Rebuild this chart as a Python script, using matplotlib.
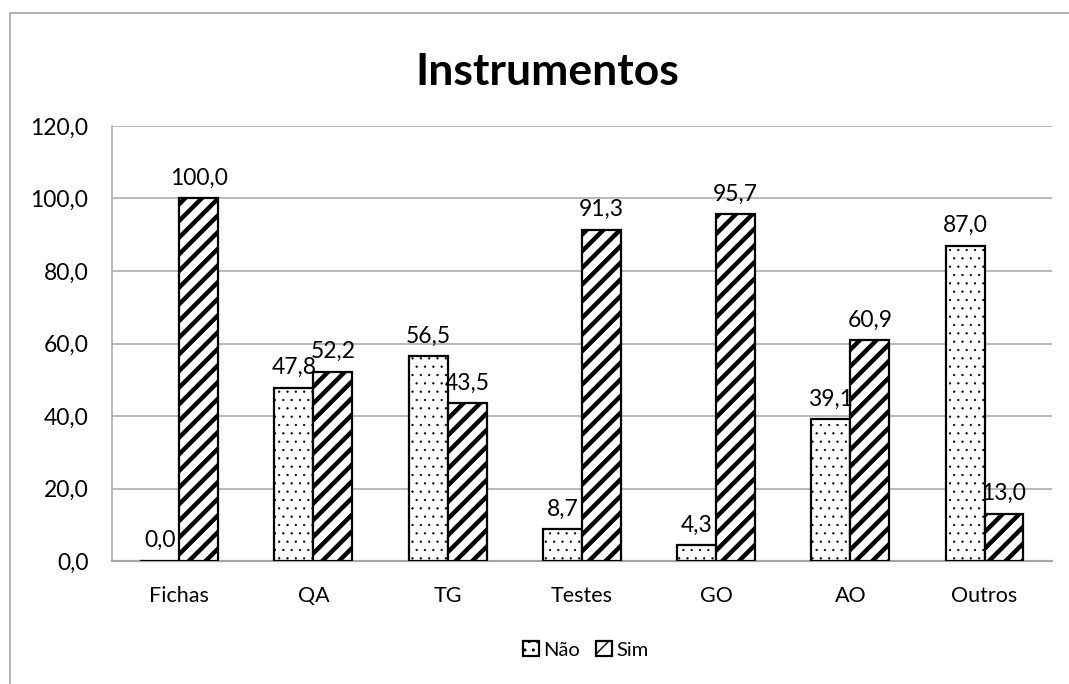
import numpy as np
import matplotlib
matplotlib.use('Agg')
import matplotlib.pyplot as plt
from matplotlib.patches import Rectangle

# percentages per instrument
categorias = ['Fichas', 'QA', 'TG', 'Testes', 'GO', 'AO', 'Outros']
nao = [0.0, 47.8, 56.5, 8.7, 4.3, 39.1, 87.0]
sim = [100.0, 52.2, 43.5, 91.3, 95.7, 60.9, 13.0]
yticks = [0, 20, 40, 60, 80, 100, 120]

plt.rcParams['font.family'] = ['Lato', 'DejaVu Sans']

fig = plt.figure(figsize=(10.69, 6.84), dpi=100)
ax = fig.add_axes([0.1048, 0.1798, 0.8790, 0.6360])

# outer chart border (only top and left show)
fig.patches.append(Rectangle((10 / 1069, -0.1), 1.2, 1 - 13 / 684 + 0.1,
                             transform=fig.transFigure, fill=False,
                             edgecolor='#a6a6a6', lw=1.2, zorder=0))

x = np.arange(len(categorias))
w = 0.29

with plt.rc_context({'hatch.linewidth': 0.4}):
    b1 = ax.bar(x - w / 2, nao, w, color='white', edgecolor='black', lw=1.6,
                hatch='..', label='Não', zorder=3)
with plt.rc_context({'hatch.linewidth': 3.2}):
    b2 = ax.bar(x + w / 2, sim, w, color='white', edgecolor='black', lw=1.6,
                hatch='//', label='Sim', zorder=3)

fmt = lambda v: f'{v:.1f}'.replace('.', ',')
for bars, vals in ((b1, nao), (b2, sim)):
    for b, v in zip(bars, vals):
        ax.annotate(fmt(v), (b.get_x() + b.get_width() / 2, v),
                    xytext=(0, 7), textcoords='offset points',
                    ha='center', va='bottom', fontsize=16.5)

ax.set_xlim(-0.5, len(categorias) - 0.5)
ax.set_ylim(0, 120)
ax.set_yticks(yticks)
ax.set_yticklabels([fmt(v) for v in yticks], fontsize=16.5)
ax.set_xticks(x)
ax.set_xticklabels(categorias, fontsize=15.5)
ax.tick_params(axis='both', length=0)
ax.tick_params(axis='y', pad=17)
ax.tick_params(axis='x', pad=18)

ax.grid(axis='y', color='#a6a6a6', lw=1.1, zorder=0)
for s in ('top', 'right'):
    ax.spines[s].set_visible(False)
ax.spines['left'].set_color('#a6a6a6')
ax.spines['left'].set_linewidth(1.1)
ax.spines['bottom'].set_color('#a6a6a6')
ax.spines['bottom'].set_linewidth(1.6)

fig.text(0.512, 0.895, 'Instrumentos', ha='center', va='center',
         fontsize=32, fontweight='bold')

leg = fig.legend(loc='center', bbox_to_anchor=(0.548, 0.05), ncol=2,
                 frameon=False, fontsize=14.5, handlelength=0.8,
                 handleheight=0.8, handletextpad=0.2, columnspacing=0.8)

fig.savefig('out.png', dpi=100)
